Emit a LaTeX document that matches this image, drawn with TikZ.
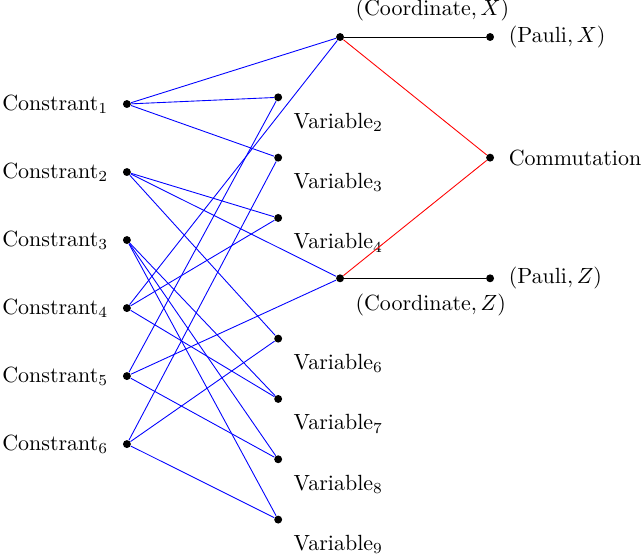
\documentclass[tikz,border=0pt]{standalone}
\newcommand*{\xcon}{2.03}
\newcommand*{\xvar}{4.45}
\newcommand*{\xcrd}{5.44}
\newcommand*{\xpau}{7.84}
\newcommand*{\ctp }{1.664}
\newcommand*{\vtp }{0.592}
\newcommand*{\stc }{1.088}
\newcommand*{\stv }{0.965}
\tikzset{
    vtx/.style   = {circle, fill=black, inner sep=0pt, minimum size=3.6pt},
    bline/.style = {blue, line width=0.4pt},
    rline/.style = {red, line width=0.4pt},
    kline/.style = {black, line width=0.4pt},
    every label/.style = {inner sep=3.33pt},
}

\begin{document}
\begin{tikzpicture}[label distance=3pt]
    \useasboundingbox (0,0) rectangle (10.27,-8.88);
        % constraints
        \node [vtx, label={left:Constrant$_1$}] (con1) at (\xcon,-\ctp)          {};
        \node [vtx, label={left:Constrant$_2$}] (con2) at (\xcon,-\ctp-\stc)     {};
        \node [vtx, label={left:Constrant$_3$}] (con3) at (\xcon,-\ctp-2*\stc)   {};
        \node [vtx, label={left:Constrant$_4$}] (con4) at (\xcon,-\ctp-3*\stc)   {};
        \node [vtx, label={left:Constrant$_5$}] (con5) at (\xcon,-\ctp-4*\stc)   {};
        \node [vtx, label={left:Constrant$_6$}] (con6) at (\xcon,-\ctp-5*\stc)   {};
        % variables
        \node [vtx, label={above right:$(\mathrm{Coordinate}, X)$}] (crdX) at (\xcrd,-\vtp) {};
        \node [vtx, label={below right:Variable$_2$}] (var2) at (\xvar,-\vtp-\stv)   {};
        \node [vtx, label={below right:Variable$_3$}] (var3) at (\xvar,-\vtp-2*\stv) {};
        \node [vtx, label={below right:Variable$_4$}] (var4) at (\xvar,-\vtp-3*\stv) {};
        \node [vtx, label={below right:$(\mathrm{Coordinate}, Z)$}] (crdZ) at (\xcrd,-\vtp-4*\stv) {};
        \node [vtx, label={below right:Variable$_6$}] (var6) at (\xvar,-\vtp-5*\stv) {};
        \node [vtx, label={below right:Variable$_7$}] (var7) at (\xvar,-\vtp-6*\stv) {};
        \node [vtx, label={below right:Variable$_8$}] (var8) at (\xvar,-\vtp-7*\stv) {};
        \node [vtx, label={below right:Variable$_9$}] (var9) at (\xvar,-\vtp-8*\stv) {};
        % right column
        \node [vtx, label={right:$(\mathrm{Pauli}, X)$}] (pauX) at (\xpau,-\vtp)        {};
        \node [vtx, label={right:Commutation}]          (comm) at (\xpau,-\vtp-2*\stv) {};
        \node [vtx, label={right:$(\mathrm{Pauli}, Z)$}] (pauZ) at (\xpau,-\vtp-4*\stv) {};
        % constraint edges
        \draw [bline] (con1) -- (crdX);
        \draw [bline] (con1) -- (var2);
        \draw [bline] (con1) -- (var3);
        \draw [bline] (con2) -- (var4);
        \draw [bline] (con2) -- (crdZ);
        \draw [bline] (con2) -- (var6);
        \draw [bline] (con3) -- (var7);
        \draw [bline] (con3) -- (var8);
        \draw [bline] (con3) -- (var9);
        \draw [bline] (con4) -- (crdX);
        \draw [bline] (con4) -- (var4);
        \draw [bline] (con4) -- (var7);
        \draw [bline] (con5) -- (var2);
        \draw [bline] (con5) -- (crdZ);
        \draw [bline] (con5) -- (var8);
        \draw [bline] (con6) -- (var3);
        \draw [bline] (con6) -- (var6);
        \draw [bline] (con6) -- (var9);
        % coordinate edges
        \draw [kline] (crdX) -- (pauX);
        \draw [kline] (crdZ) -- (pauZ);
        \draw [rline] (crdX) -- (comm);
        \draw [rline] (crdZ) -- (comm);
    \end{tikzpicture}
\end{document}
